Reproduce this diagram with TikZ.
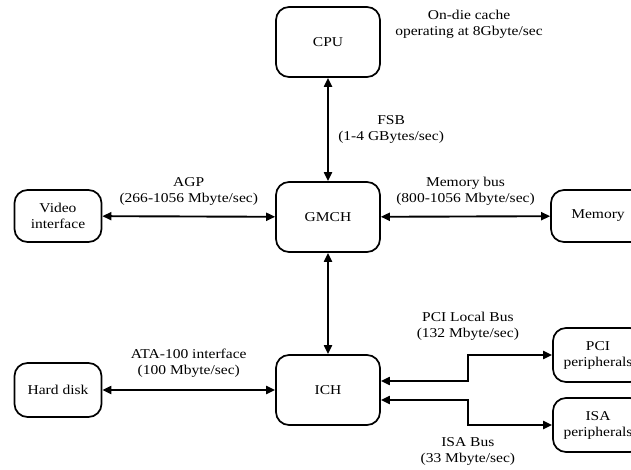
\documentclass[tikz,border=0pt]{standalone}
\usepackage{fontspec}
\setmainfont{Liberation Serif}[FakeStretch=1.15]
\usetikzlibrary{arrows.meta}
\usetikzlibrary{positioning,calc}
\tikzset{
    unit/.style={
        draw,
        rounded corners=13pt,
        line width=1.7pt,
        fill=white,
        align=center,
        inner sep=1pt,
        font=\fontsize{13.5}{16}\selectfont
    },
    bus/.style={
        draw,
        {Triangle[length=9pt, width=8pt]}-{Triangle[length=9pt, width=8pt]},
        line width=1.9pt
    },
    buslabel/.style={
        align=center,
        font=\fontsize{13.5}{16}\selectfont
    }
}

\begin{document}
\begin{tikzpicture}[x=1pt, y=-1pt]
    \useasboundingbox (0,0) rectangle (631,470);
    \clip (0,0) rectangle (631,470);

    % Chips
    \node[unit, minimum width=104pt, minimum height=70pt] (CPU) at (328,42) {CPU};
    \node[unit, minimum width=104pt, minimum height=70pt] (GMCH) at (328,217) {GMCH};
    \node[unit, minimum width=104pt, minimum height=70pt] (ICH) at (328,390) {ICH};

    % Devices
    \node[unit, minimum width=87pt, minimum height=52pt] (video) at (58,216) {Video\\interface};
    \node[unit, minimum width=87pt, minimum height=54pt] (disk) at (58,390) {Hard disk};
    \node[unit, minimum width=94pt, minimum height=52pt] (memory) at (598,216) {Memory};
    \node[unit, minimum width=90pt, minimum height=54pt] (pci) at (598,355) {PCI\\peripherals};
    \node[unit, minimum width=90pt, minimum height=54pt] (isa) at (598,425) {ISA\\peripherals};

    \node[buslabel] (cache) at (469,24) {On-die cache\\operating at 8Gbyte/sec};

    % Buses
    \draw[bus] (CPU) -- node[buslabel, right=6pt] (fsb) {FSB\\(1-4 GBytes/sec)} (GMCH);
    \draw[bus] (video) -- node[buslabel, above=7pt] (agp) {AGP\\(266-1056 Mbyte/sec)} (GMCH);
    \draw[bus] (GMCH) -- node[buslabel, above=7pt] (membus) {Memory bus\\(800-1056 Mbyte/sec)} (memory);
    \draw[bus] (GMCH) -- (ICH);
    \draw[bus] (disk) -- node[buslabel, above=8pt] (ata) {ATA-100 interface\\(100 Mbyte/sec)} (ICH);
    \draw[bus] ($(ICH.east)+(0,-9)$) -- ++(87,0) |- node[pos=0.5, buslabel, above=10pt] (pcibus) {PCI Local Bus\\(132 Mbyte/sec)} (pci);
    \draw[bus] ($(ICH.east)+(0,10)$) -- ++(87,0) |- node[pos=0.5, buslabel, below=8pt] (isabus) {ISA Bus\\(33 Mbyte/sec)} (isa);
\end{tikzpicture}
\end{document}
